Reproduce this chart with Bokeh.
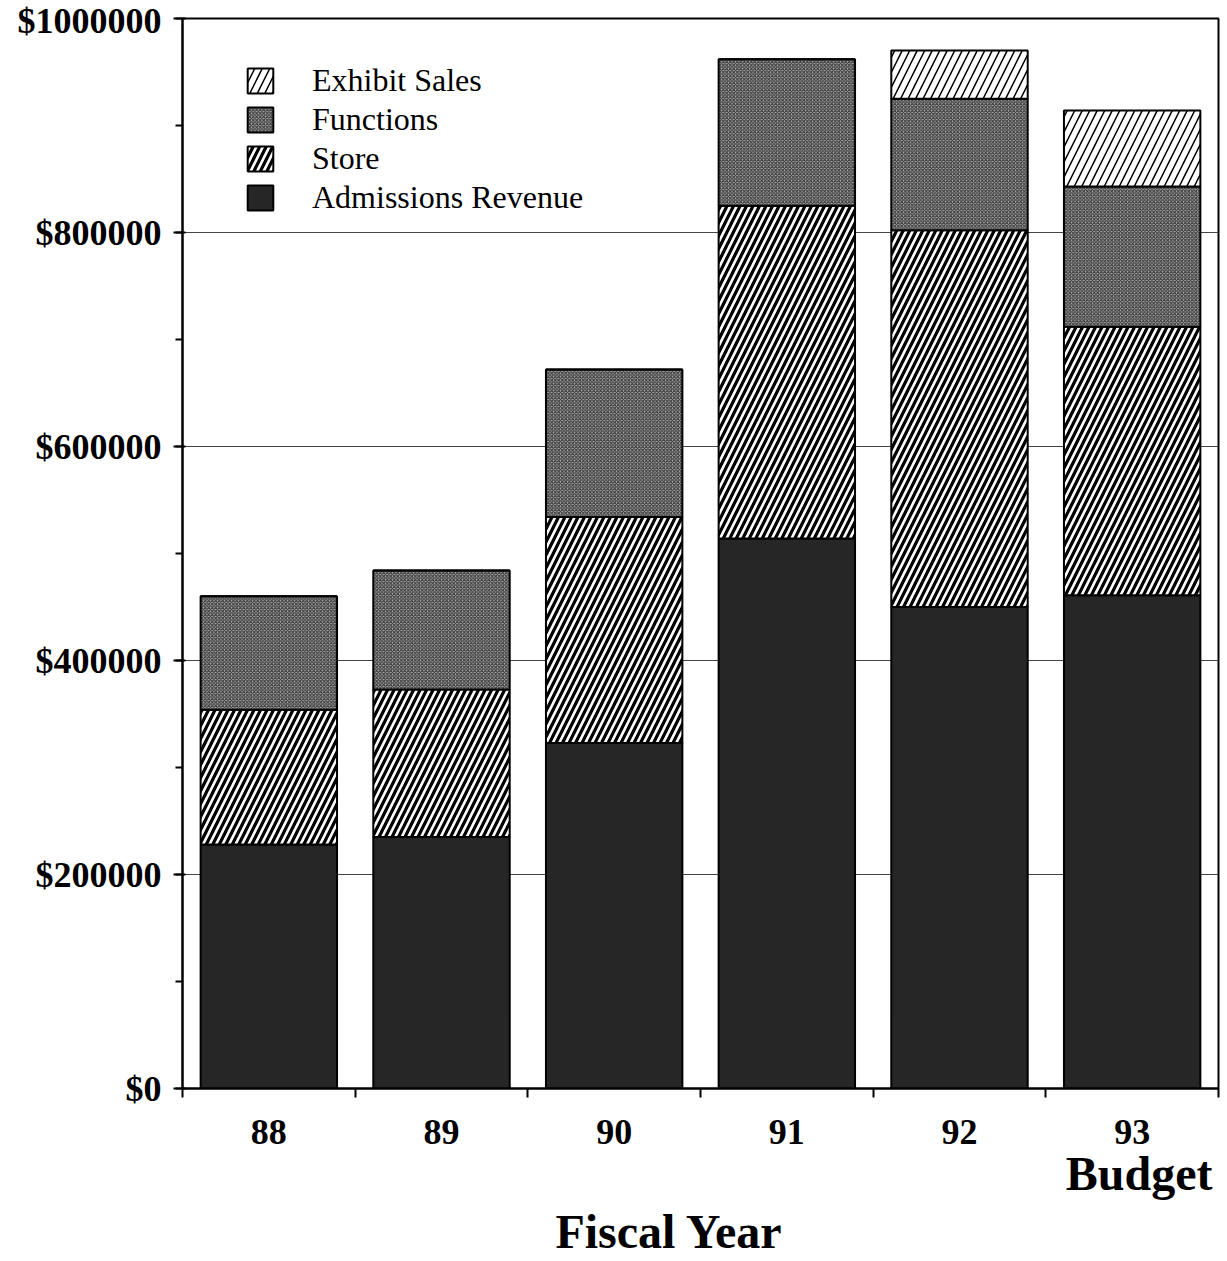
from bokeh.plotting import figure
from bokeh.models import (ColumnDataSource, FixedTicker, LinearAxis, Range1d,
                          Legend, LegendItem)
from bokeh.embed import file_html
from bokeh.resources import INLINE

# ---- data ----
years = ["88", "89", "90", "91", "92", "93"]
admissions = [228000, 235000, 323000, 514000, 450000, 461000]
store = [126000, 138000, 211000, 311000, 352000, 251000]
functions = [106000, 111000, 138000, 137000, 123000, 131000]
exhibit_sales = [0, 0, 0, 0, 45000, 71000]
series_names = ["Admissions Revenue", "Store", "Functions", "Exhibit Sales"]
y_ticks = [0, 200000, 400000, 600000, 800000, 1000000]
y_tick_labels = ["$0", "$200000", "$400000", "$600000", "$800000", "$1000000"]
budget_label = "Budget"
x_title = "Fiscal Year"

xpos = [i + 0.5 for i in range(len(years))]
source = ColumnDataSource(dict(x=xpos, adm=admissions, store=store,
                               func=functions, exh=exhibit_sales))

SERIF = "Liberation Serif"

p = figure(width=1227, height=1261, output_backend="svg", toolbar_location=None,
           x_range=Range1d(0, 6), y_range=Range1d(0, 1000000),
           min_border_left=182, min_border_right=9, min_border_top=18,
           min_border_bottom=173)
p.outline_line_color = "black"
p.outline_line_width = 2
p.background_fill_color = "white"
p.border_fill_color = "white"

# grid
p.xgrid.grid_line_color = None
p.ygrid.ticker = FixedTicker(ticks=[200000, 400000, 600000, 800000])
p.ygrid.grid_line_color = "#444444"
p.ygrid.grid_line_width = 1.2

renderers = p.vbar_stack(
    ["adm", "store", "func", "exh"], x="x", width=0.79, source=source,
    fill_color=["#262626", "white", "#a8a8a8", "white"],
    hatch_pattern=[" ", "/", "x", "/"],
    hatch_color=["black", "black", "#2a2a2a", "black"],
    hatch_scale=[8, 13, 3.5, 15],
    hatch_weight=[1, 3.2, 1, 1.5],
    line_color="black", line_width=2,
)

# legend
items = [LegendItem(label=series_names[i], renderers=[renderers[i]])
         for i in [3, 2, 1, 0]]
legend = Legend(items=items, location=(62, 872), orientation="vertical")
legend.border_line_color = None
legend.background_fill_alpha = 0
legend.glyph_width = 32
legend.glyph_height = 31
legend.label_height = 31
legend.spacing = 2
legend.padding = 6
legend.label_standoff = 36
legend.label_text_font = SERIF
legend.label_text_font_size = "32px"
legend.label_text_color = "black"
p.add_layout(legend, "center")

# y axis
ya = p.yaxis[0]
ya.ticker = FixedTicker(ticks=y_ticks,
                        minor_ticks=list(range(0, 1000001, 100000)))
ya.major_label_overrides = {t: l for t, l in zip(y_ticks, y_tick_labels)}
ya.major_label_text_font = SERIF
ya.major_label_text_font_style = "bold"
ya.major_label_text_font_size = "36px"
ya.major_label_text_color = "black"
ya.axis_line_width = 2
ya.major_tick_out = 9
ya.major_tick_in = 3
ya.major_tick_line_width = 2
ya.minor_tick_out = 7
ya.minor_tick_in = 0
ya.minor_tick_line_width = 2
ya.major_label_standoff = 12

# x axis (years)
xa = p.xaxis[0]
xa.ticker = FixedTicker(ticks=xpos, minor_ticks=[0, 1, 2, 3, 4, 5, 6])
xa.major_label_overrides = {x: y for x, y in zip(xpos, years)}
xa.major_tick_line_color = None
xa.minor_tick_out = 9
xa.minor_tick_in = 0
xa.minor_tick_line_width = 2
xa.axis_line_width = 2
xa.major_label_text_font = SERIF
xa.major_label_text_font_style = "bold"
xa.major_label_text_font_size = "36px"
xa.major_label_text_color = "black"
xa.major_label_standoff = 22

# second x axis: "Budget"
xa2 = LinearAxis(ticker=FixedTicker(ticks=[5.54], minor_ticks=[]))
xa2.major_label_overrides = {5.54: budget_label}
xa2.axis_line_color = None
xa2.major_tick_line_color = None
xa2.minor_tick_line_color = None
xa2.major_label_text_font = SERIF
xa2.major_label_text_font_style = "bold"
xa2.major_label_text_font_size = "48px"
xa2.major_label_text_color = "black"
xa2.major_label_standoff = -6
p.add_layout(xa2, "below")

# third x axis: title
xa3 = LinearAxis(ticker=FixedTicker(ticks=[2.82], minor_ticks=[]))
xa3.major_label_overrides = {2.82: x_title}
xa3.axis_line_color = None
xa3.major_tick_line_color = None
xa3.minor_tick_line_color = None
xa3.major_label_text_font = SERIF
xa3.major_label_text_font_style = "bold"
xa3.major_label_text_font_size = "48px"
xa3.major_label_text_color = "black"
xa3.major_label_standoff = -4
p.add_layout(xa3, "below")

open("out.html", "w").write(file_html(p, INLINE))
